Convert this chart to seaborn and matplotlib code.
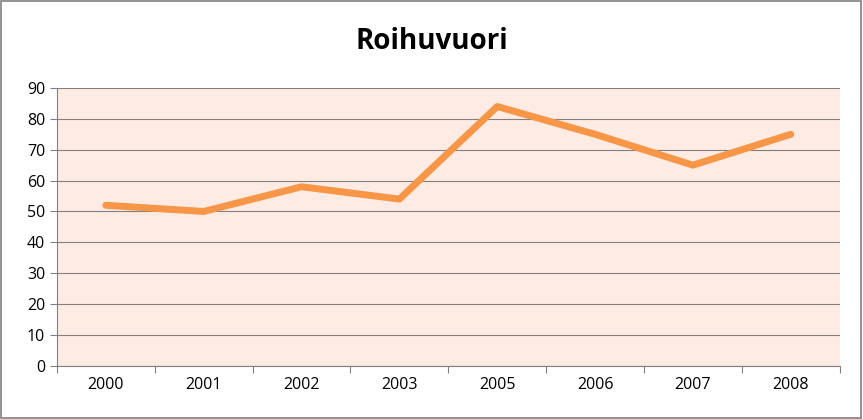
import matplotlib
matplotlib.use("Agg")
import matplotlib.pyplot as plt
import seaborn as sns
import pandas as pd

years = ["2000", "2001", "2002", "2003", "2005", "2006", "2007", "2008"]
values = [52, 50, 58, 54, 84, 75, 65, 75]

sns.set_style("white")
plt.rcParams['font.family'] = ['Open Sans', 'DejaVu Sans']

df = pd.DataFrame({"year": years, "value": values})
fig = plt.figure(figsize=(8.63, 4.19), dpi=100)
ax = fig.add_axes([0.066, 0.127, 0.907, 0.663])
sns.lineplot(data=df, x="year", y="value", ax=ax, color="#F79646", linewidth=5, sort=False)
ax.set_facecolor("#FDEBE4")
ax.set_xlim(-0.5, len(years) - 0.5)
ax.set_ylim(0, 90)
ax.set_yticks(range(0, 91, 10))
ax.yaxis.grid(True, color="#808080", linewidth=0.8)
ax.set_axisbelow(True)
ax.set_xlabel("")
ax.set_ylabel("")
for s in ["top", "right"]:
    ax.spines[s].set_visible(False)
for s in ["left", "bottom"]:
    ax.spines[s].set_color("#808080")
ax.set_xticks([i - 0.5 for i in range(len(years) + 1)], minor=False)
ax.set_xticklabels([])
ax.set_xticks(range(len(years)), minor=True)
ax.set_xticklabels(years, minor=True)
ax.tick_params(axis="x", which="major", length=5, color="#808080", direction="out", bottom=True)
ax.tick_params(axis="x", which="minor", length=0, labelsize=11.5, pad=8, labelcolor="black")
ax.tick_params(axis="y", labelsize=11.5, length=5, color="#808080", left=True, labelcolor="black")
fig.text(0.5, 0.9, "Roihuvuori", ha="center", va="center", fontsize=20, fontweight="bold", color="black")
fig.patches.append(plt.Rectangle((0.001, 0.002), 0.997, 0.995, transform=fig.transFigure,
                                 fill=False, edgecolor="#808080", linewidth=1.2))
fig.savefig("out.png", dpi=100)
